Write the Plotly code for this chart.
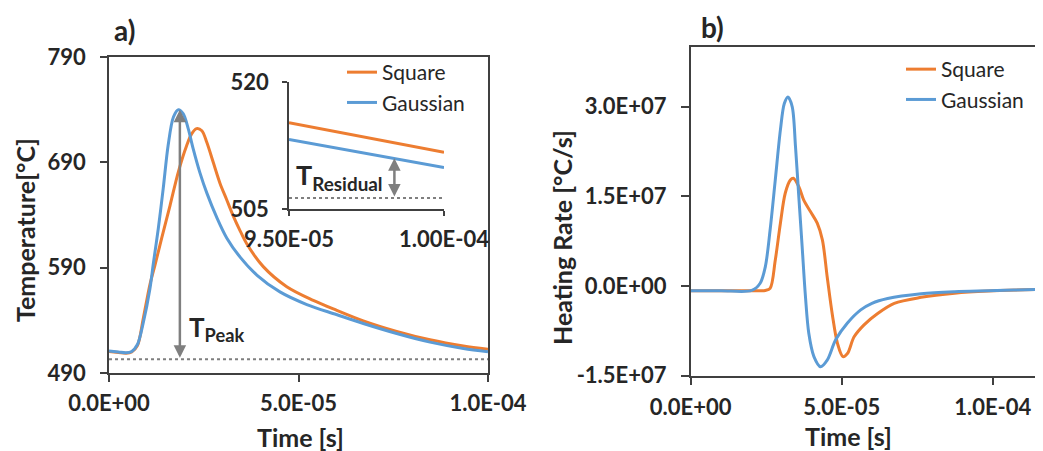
import plotly.graph_objects as go

# ---------------- data: panel a) temperature ----------------
time_sq_a = [0.0, 0.25e-5, 0.45e-5, 0.6e-5, 0.75e-5, 0.9e-5, 1.08e-5, 1.21e-5, 1.39e-5, 1.61e-5,
             1.83e-5, 2.05e-5, 2.18e-5, 2.31e-5, 2.45e-5, 2.58e-5, 2.75e-5, 2.93e-5, 3.1e-5, 3.28e-5,
             3.46e-5, 3.63e-5, 4.07e-5, 4.69e-5, 5.39e-5, 6.01e-5, 6.71e-5, 7.59e-5, 8.47e-5, 9.35e-5,
             10.0e-5]
temp_sq = [510.5, 509.5, 508.8, 510.0, 516.0, 541.0, 574.0, 592.0, 618.0, 649.0,
           681.0, 706.0, 717.0, 722.0, 720.0, 709.0, 690.0, 670.0, 655.0, 639.0,
           625.0, 613.0, 591.0, 572.0, 559.0, 549.5, 539.5, 529.5, 521.5, 515.6,
           512.5]

time_ga_a = [0.0, 0.25e-5, 0.45e-5, 0.6e-5, 0.75e-5, 0.9e-5, 1.08e-5, 1.17e-5, 1.3e-5, 1.43e-5,
             1.56e-5, 1.7e-5, 1.83e-5, 1.96e-5, 2.09e-5, 2.22e-5, 2.4e-5, 2.58e-5, 2.84e-5, 3.11e-5,
             3.46e-5, 3.9e-5, 4.51e-5, 5.22e-5, 6.0e-5, 6.71e-5, 7.59e-5, 8.47e-5, 9.35e-5, 10.0e-5]
temp_ga = [511.0, 510.0, 509.2, 510.5, 517.0, 537.0, 570.0, 594.0, 627.0, 665.0,
           706.0, 733.0, 740.0, 736.0, 722.0, 703.0, 680.0, 661.0, 638.0, 618.0,
           600.0, 583.0, 567.0, 555.0, 545.5, 537.0, 527.5, 519.3, 513.3, 510.2]

# inset (zoom on the end of the cycle)
time_inset = [9.5e-5, 9.75e-5, 10.0e-5]
temp_sq_inset = [515.2, 513.45, 511.7]
temp_ga_inset = [513.2, 511.55, 509.9]

# reference (initial) temperature levels and annotation positions
t_base_main = 503.0
t_base_inset = 506.3
t_peak_time = 1.87e-5
t_peak_value = 740.0
t_res_time = 9.84e-5
t_res_value = 511.0

# ---------------- data: panel b) heating rate ----------------
time_sq_b = [0.0, 1.0e-5, 2.0e-5, 2.47e-5, 2.63e-5, 2.8e-5, 2.97e-5, 3.13e-5, 3.3e-5, 3.4e-5,
             3.58e-5, 3.74e-5, 3.97e-5, 4.19e-5, 4.36e-5, 4.52e-5, 4.69e-5, 4.86e-5, 5.04e-5, 5.19e-5,
             5.41e-5, 5.74e-5, 6.19e-5, 6.74e-5, 7.63e-5, 8.74e-5, 9.85e-5, 11.7e-5, 12.0e-5]
rate_sq = [-0.079e7, -0.079e7, -0.079e7, -0.075e7, -0.04e7, 0.43e7, 1.05e7, 1.55e7, 1.77e7, 1.80e7,
           1.66e7, 1.44e7, 1.24e7, 1.05e7, 0.77e7, 0.15e7, -0.48e7, -0.96e7, -1.18e7, -1.13e7,
           -0.85e7, -0.65e7, -0.46e7, -0.29e7, -0.19e7, -0.12e7, -0.084e7, -0.055e7, -0.052e7]

time_ga_b = [0.0, 1.0e-5, 2.02e-5, 2.3e-5, 2.47e-5, 2.63e-5, 2.8e-5, 2.97e-5, 3.1e-5, 3.22e-5,
             3.36e-5, 3.47e-5, 3.58e-5, 3.69e-5, 3.8e-5, 3.91e-5, 4.08e-5, 4.3e-5, 4.52e-5, 4.8e-5,
             5.19e-5, 5.63e-5, 6.0e-5, 6.52e-5, 7.63e-5, 8.74e-5, 9.85e-5, 11.7e-5, 12.0e-5]
rate_ga = [-0.079e7, -0.079e7, -0.075e7, 0.045e7, 0.32e7, 0.94e7, 1.77e7, 2.61e7, 3.05e7, 3.16e7,
           3.0e7, 2.33e7, 1.49e7, 0.66e7, -0.18e7, -0.79e7, -1.18e7, -1.35e7, -1.24e7, -0.9e7,
           -0.62e7, -0.40e7, -0.29e7, -0.21e7, -0.13e7, -0.095e7, -0.079e7, -0.055e7, -0.052e7]

# ---------------- tick labels ----------------
time_ticks = [0.0, 5e-5, 1e-4]
time_ticktext = ["0.0E+00", "5.0E-05", "1.0E-04"]
temp_ticks = [490, 590, 690, 790]
rate_ticks = [-1.5e7, 0.0, 1.5e7, 3.0e7]
rate_ticktext = ["-1.5E+07", "0.0E+00", "1.5E+07", "3.0E+07"]
inset_xticks = [9.5e-5, 1.0e-4]
inset_xticktext = ["9.50E-05", "1.00E-04"]
inset_yticks = [505, 520]

# ---------------- style ----------------
ORANGE = "#ED7D31"
BLUE = "#5B9BD5"
GREY = "#7F7F7F"
AXIS = "#404040"
TXT = "#262626"
FONT = "Lato, 'Open Sans', sans-serif"
W, H = 1043, 451
OFF = 8  # page body margin of the exported html


def px(x):
    return (x - OFF) / W


def py(y):
    return (H - (y - OFF)) / H


fig = go.Figure()

# panel a
fig.add_trace(go.Scatter(x=[0.0, 1e-4], y=[t_base_main, t_base_main], mode="lines",
                         line=dict(color=GREY, width=2, dash="dot"), showlegend=False,
                         hoverinfo="skip", xaxis="x", yaxis="y"))
fig.add_trace(go.Scatter(x=time_sq_a, y=temp_sq, mode="lines", name="Square",
                         line=dict(color=ORANGE, width=3, shape="spline", smoothing=0.9),
                         xaxis="x", yaxis="y", legend="legend"))
fig.add_trace(go.Scatter(x=time_ga_a, y=temp_ga, mode="lines", name="Gaussian",
                         line=dict(color=BLUE, width=3, shape="spline", smoothing=0.9),
                         xaxis="x", yaxis="y", legend="legend"))

# inset
fig.add_trace(go.Scatter(x=[9.5e-5, 1.0e-4], y=[t_base_inset, t_base_inset], mode="lines",
                         line=dict(color=GREY, width=2, dash="dot"), showlegend=False,
                         hoverinfo="skip", xaxis="x3", yaxis="y3"))
fig.add_trace(go.Scatter(x=time_inset, y=temp_sq_inset, mode="lines", name="Square",
                         line=dict(color=ORANGE, width=3), showlegend=False,
                         xaxis="x3", yaxis="y3"))
fig.add_trace(go.Scatter(x=time_inset, y=temp_ga_inset, mode="lines", name="Gaussian",
                         line=dict(color=BLUE, width=3), showlegend=False,
                         xaxis="x3", yaxis="y3"))

# panel b
fig.add_trace(go.Scatter(x=time_sq_b, y=rate_sq, mode="lines", name="Square",
                         line=dict(color=ORANGE, width=3, shape="spline", smoothing=0.9),
                         xaxis="x2", yaxis="y2", legend="legend2"))
fig.add_trace(go.Scatter(x=time_ga_b, y=rate_ga, mode="lines", name="Gaussian",
                         line=dict(color=BLUE, width=3, shape="spline", smoothing=0.9),
                         xaxis="x2", yaxis="y2", legend="legend2"))

tickfont = dict(family=FONT, size=22, color=TXT, weight="bold")
common = dict(showgrid=False, zeroline=False, showline=True, linecolor=AXIS, linewidth=1.5,
              ticks="outside", tickcolor=AXIS, tickwidth=1.5, tickfont=tickfont)

fig.update_layout(
    width=W, height=H,
    margin=dict(l=0, r=0, t=0, b=0, autoexpand=False),
    paper_bgcolor="white", plot_bgcolor="rgba(0,0,0,0)",
    font=dict(family=FONT, color=TXT),
    xaxis=dict(domain=[px(109), px(488)], range=[0, 1e-4], anchor="y",
               tickvals=time_ticks, ticktext=time_ticktext, ticklen=7, mirror=True,
               ticklabelstandoff=3, **common),
    yaxis=dict(domain=[py(373), py(57)], range=[490, 790], anchor="x",
               tickvals=temp_ticks, ticklen=7, mirror=True, ticklabelstandoff=10, **common),
    xaxis2=dict(domain=[px(690.7), px(1051)], range=[0, 1.193e-4], anchor="y2",
                tickvals=time_ticks, ticktext=time_ticktext, ticklen=8, mirror=True,
                ticklabelstandoff=3, **common),
    yaxis2=dict(domain=[py(375.7), py(46.7)], range=[-1.5e7, 4.0e7], anchor="x2",
                tickvals=rate_ticks, ticktext=rate_ticktext, ticklen=8, ticklabelstandoff=10,
                **common),
    xaxis3=dict(domain=[px(289), px(444)], range=[9.5e-5, 1.0e-4], anchor="y3",
                tickvals=inset_xticks, ticktext=inset_xticktext, ticklen=5,
                ticklabelstandoff=5, **common),
    yaxis3=dict(domain=[py(209), py(82)], range=[505, 520], anchor="x3",
                tickvals=inset_yticks, ticklen=5, ticklabelstandoff=9, **common),
    legend=dict(x=px(342), y=py(52), xanchor="left", yanchor="top",
                bgcolor="rgba(0,0,0,0)", font=dict(family=FONT, size=21, color=TXT),
                tracegroupgap=0),
    legend2=dict(x=px(901), y=py(49), xanchor="left", yanchor="top",
                 bgcolor="rgba(0,0,0,0)", font=dict(family=FONT, size=21, color=TXT),
                 tracegroupgap=0),
)

bold = dict(family=FONT, color=TXT, weight="bold")
annos = [
    dict(text="a)", x=px(124), y=py(30), size=28),
    dict(text="b)", x=px(712), y=py(27), size=28),
    dict(text="Time [s]", x=px(300), y=py(437), size=25),
    dict(text="Time [s]", x=px(848), y=py(436), size=25),
]
for a in annos:
    fig.add_annotation(text=a["text"], x=a["x"], y=a["y"], xref="paper", yref="paper",
                       xanchor="center", yanchor="middle", showarrow=False,
                       font=dict(size=a["size"], **bold))
fig.add_annotation(text="Temperature[°C]", x=px(25), y=py(230), xref="paper", yref="paper",
                   textangle=-90, showarrow=False, xanchor="center", yanchor="middle",
                   font=dict(size=25, **bold))
fig.add_annotation(text="Heating Rate [°C/s]", x=px(562), y=py(238), xref="paper", yref="paper",
                   textangle=-90, showarrow=False, xanchor="center", yanchor="middle",
                   font=dict(size=25, **bold))
fig.add_annotation(text="T<sub>Peak</sub>", x=px(187), y=py(328), xref="paper", yref="paper",
                   xanchor="left", yanchor="middle", showarrow=False, font=dict(size=26, **bold))
fig.add_annotation(text="T<sub>Residual</sub>", x=px(294), y=py(176), xref="paper", yref="paper",
                   xanchor="left", yanchor="middle", showarrow=False, font=dict(size=27, **bold))

# double-headed arrows
fig.add_annotation(x=t_peak_time, y=t_peak_value, ax=t_peak_time, ay=t_base_main,
                   xref="x", yref="y", axref="x", ayref="y", text="", showarrow=True,
                   arrowhead=2, startarrowhead=2, arrowside="end+start", arrowsize=1,
                   startarrowsize=1, arrowwidth=2.5, arrowcolor=GREY)
fig.add_annotation(x=t_res_time, y=t_res_value, ax=t_res_time, ay=t_base_inset,
                   xref="x3", yref="y3", axref="x3", ayref="y3", text="", showarrow=True,
                   arrowhead=2, startarrowhead=2, arrowside="end+start", arrowsize=1,
                   startarrowsize=1, arrowwidth=2.5, arrowcolor=GREY)

fig.write_html("out.html")
